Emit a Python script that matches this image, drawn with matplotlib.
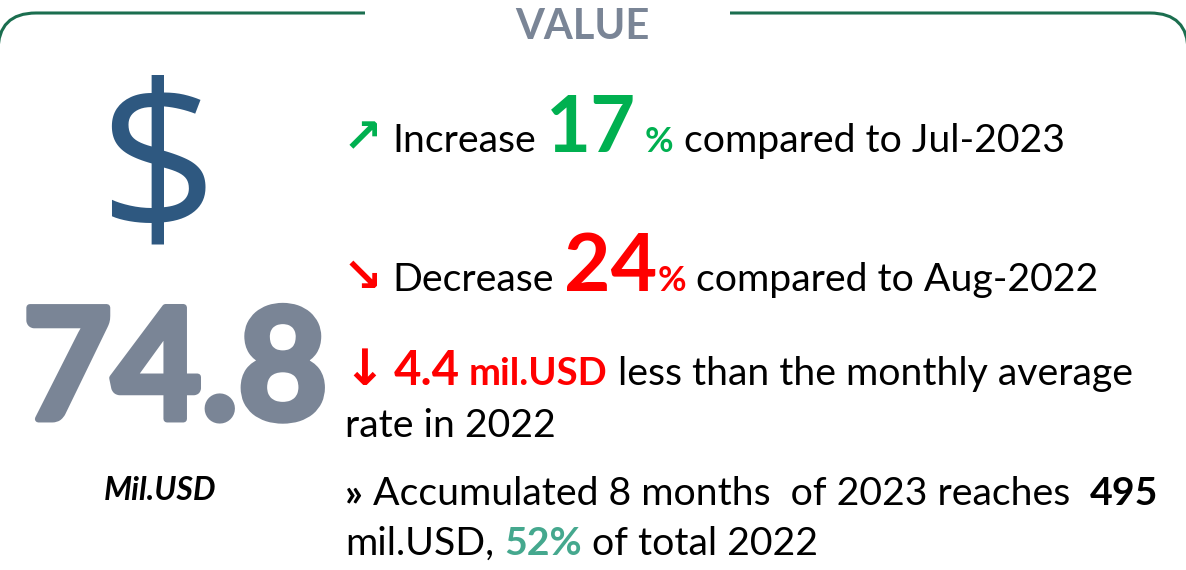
import matplotlib
matplotlib.use('Agg')
import matplotlib.pyplot as plt
import matplotlib.patheffects as pe
from matplotlib.path import Path
from matplotlib.patches import PathPatch

W, H = 1186, 570
FAM = ['Lato', 'DejaVu Sans']
ARROW_FAM = ['DejaVu Sans']

# content
title = 'VALUE'
value = '74.8'
unit = 'Mil.USD'
mom_change = '17'      # vs Jul-2023
yoy_change = '24'      # vs Aug-2022
avg_gap = '4.4'
accum_value = '495'
accum_share = '52%'

GREEN = '#00b050'
RED = '#ff0000'
TEAL = '#45a88e'
BLACK = '#000000'
GRAY = '#7a8596'
NAVY = '#2e5880'
BORDER = '#1b6e4f'

fig = plt.figure(figsize=(W / 100, H / 100), dpi=100)
ax = fig.add_axes([0, 0, 1, 1])
ax.set_xlim(0, W)
ax.set_ylim(H, 0)
ax.axis('off')
renderer = fig.canvas.get_renderer()


def space_width(size, weight):
    def w(s):
        t = ax.text(0, 0, s, fontsize=size, fontweight=weight, family=FAM)
        bb = t.get_window_extent(renderer)
        t.remove()
        return bb.width
    return w('x x') - w('xx')


def draw_runs(x, y, runs):
    # runs: (text, size, color, weight, family)
    for text, size, color, weight, family in runs:
        sp = space_width(size, weight)
        lead = len(text) - len(text.lstrip(' '))
        trail = len(text) - len(text.rstrip(' '))
        x += lead * sp
        core = text.strip(' ')
        if core:
            t = ax.text(x, y, core, fontsize=size, color=color, fontweight=weight,
                        family=family, ha='left', va='baseline')
            x += t.get_window_extent(renderer).width
        x += trail * sp
    return x


# border: top line with a gap for the title, rounded corners
r = 38
left = Path([(-2, 13 + r + 20), (-2, 13 + r), (-2, 13), (-2 + r, 13), (365, 13)],
            [Path.MOVETO, Path.LINETO, Path.CURVE3, Path.CURVE3, Path.LINETO])
right = Path([(730, 13), (1188 - r, 13), (1188, 13), (1188, 13 + r), (1188, 13 + r + 20)],
             [Path.MOVETO, Path.LINETO, Path.CURVE3, Path.CURVE3, Path.LINETO])
for p in (left, right):
    ax.add_patch(PathPatch(p, fill=False, edgecolor=BORDER, linewidth=2.2, capstyle='butt'))

ax.text(582, 39, title, fontsize=30, fontweight='bold', color=GRAY, family=FAM,
        ha='center', va='baseline')

# left block
ax.text(158, 232, '$', fontsize=150, color=NAVY, family=['Open Sans', 'DejaVu Sans'],
        ha='center', va='baseline')
ax.text(175, 419, value, fontsize=111, fontweight='bold', color=GRAY, family=FAM,
        ha='center', va='baseline',
        path_effects=[pe.withStroke(linewidth=5, foreground=GRAY)])
ax.text(160, 500, unit, fontsize=23, fontweight='bold', fontstyle='italic', color=BLACK,
        family=FAM, ha='center', va='baseline')

# right block
BS = 28.3
AS = 34
B = 'bold'
N = 'normal'
draw_runs(343, 152, [
    ('\u2197', AS, GREEN, B, ARROW_FAM),
    (' Increase ', BS, BLACK, N, FAM),
    (mom_change, 56, GREEN, B, FAM),
    (' %', 25, GREEN, B, FAM),
    (' compared to Jul-2023', BS, BLACK, N, FAM),
])
draw_runs(343, 291, [
    ('\u2198', AS, RED, B, ARROW_FAM),
    (' Decrease ', BS, BLACK, N, FAM),
    (yoy_change, 58, RED, B, FAM),
    ('%', 25, RED, B, FAM),
    (' compared to Aug-2022', BS, BLACK, N, FAM),
])
draw_runs(343, 385, [
    ('\u2193', AS + 2, RED, B, ARROW_FAM),
    (' ', 13, RED, B, FAM),
    (avg_gap, 34, RED, B, FAM),
    (' mil.USD', 27.5, RED, B, FAM),
    (' less than the monthly average', BS, BLACK, N, FAM),
])
draw_runs(345, 437, [('rate in 2022', BS, BLACK, N, FAM)])
draw_runs(345, 505, [
    ('\u00bb', BS, BLACK, B, FAM),
    (' Accumulated 8 months  of 2023 reaches  ', BS, BLACK, N, FAM),
    (accum_value, BS, BLACK, B, FAM),
])
draw_runs(345, 555, [
    ('mil.USD, ', BS, BLACK, N, FAM),
    (accum_share, BS, TEAL, B, FAM),
    (' of total 2022', BS, BLACK, N, FAM),
])

fig.savefig('out.png', dpi=100)
